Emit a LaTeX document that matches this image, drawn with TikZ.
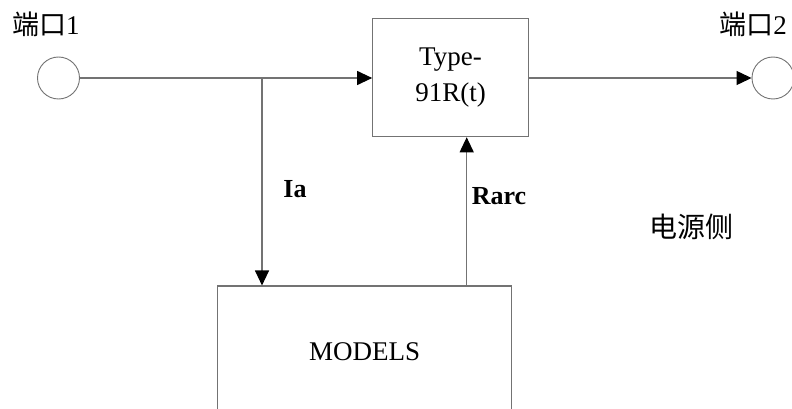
\documentclass[tikz,border=0pt]{standalone}
\usepackage{fontspec}
\setmainfont{Liberation Serif}
\newfontfamily\cjk{Noto Sans CJK SC}
\usetikzlibrary{arrows.meta}
\begin{document}
\begin{tikzpicture}[x=1pt,y=1pt,
  wire/.style={draw=black!55, line width=1.1pt},
  arr/.style={wire, -{Triangle[length=15pt,width=14pt,fill=black,color=black]}},
  port/.style={circle, draw=black!55, line width=0.9pt, minimum size=42pt, inner sep=0pt},
  blk/.style={rectangle, draw=black!55, line width=1.1pt, inner sep=0pt, align=center, font=\fontsize{27}{36}\selectfont},
  lbl/.style={inner sep=0pt, font=\fontsize{27}{32}\selectfont},
  blbl/.style={inner sep=0pt, font=\fontsize{26}{30}\selectfont\bfseries}
]
\useasboundingbox (0,0) rectangle (792,-409);
\node[port] (p1) at (58.5,-78) {};
\node[port] (p2) at (773,-78) {};
\node[blk, minimum width=155.6pt, minimum height=118.4pt] (T) at (450.5,-77.5) {Type-\\91R(t)};
\node[blk, minimum width=294.2pt, minimum height=132pt] (M) at (364.6,-352) {MODELS};
\coordinate (j) at (262,-78);
\coordinate (rx) at (466.7,0);
\draw[arr] (p1.east) -- (p1.east -| T.west);
\draw[arr] (j) -- (j |- M.north);
\draw[arr] (M.north -| rx) -- (T.south -| rx);
\draw[arr] (p2.west -| T.east) -- (p2.west);
\node[lbl] (l1) at (46,-24) {{\cjk 端口}1};
\node[lbl] (l2) at (753,-24) {{\cjk 端口}2};
\node[blbl] (ia) at (295,-189) {Ia};
\node[blbl] (rarc) at (499,-196) {Rarc};
\node[lbl, font=\fontsize{28}{32}\selectfont\cjk] (src) at (691,-227) {电源侧};
\end{tikzpicture}
\end{document}
